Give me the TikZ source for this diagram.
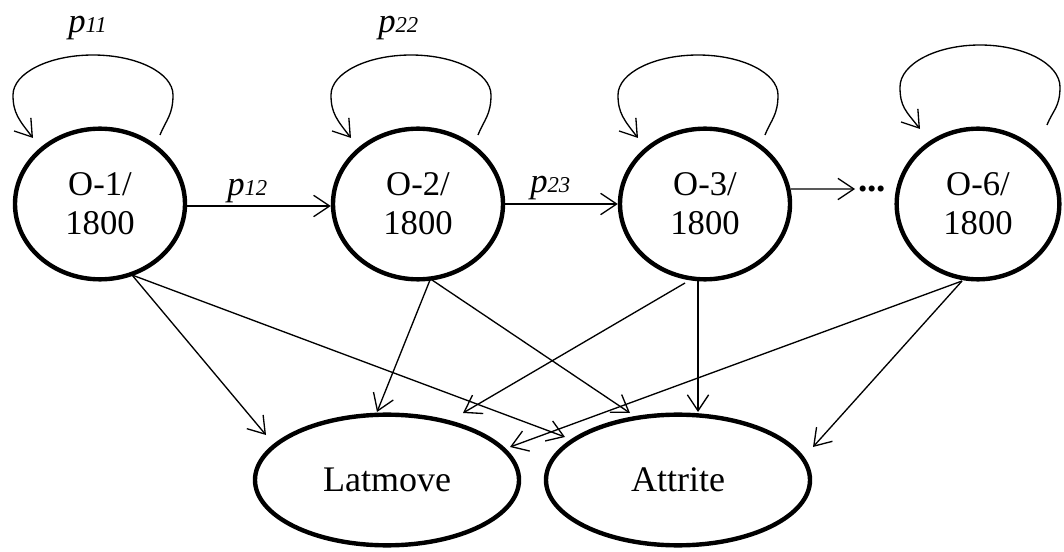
\documentclass[tikz,border=0pt]{standalone}
\usepackage{fontspec}
\setmainfont{Liberation Serif}
\usetikzlibrary{arrows.meta,shapes.geometric}
\newcommand\pidx[1]{{\fontsize{17}{17}\selectfont #1}}
\begin{document}
\begin{tikzpicture}[x=0.75pt,y=-0.75pt,
  state/.style={draw, line width=3.3pt, ellipse, inner sep=0pt,
    minimum width=127.5pt, minimum height=113pt,
    font=\fontsize{26}{29}\selectfont, align=center},
  sink/.style={draw, line width=3.3pt, ellipse, inner sep=0pt,
    minimum width=198pt, minimum height=98pt,
    font=\fontsize{27}{30}\selectfont},
  link/.style={line width=1pt, -{Straight Barb[length=12pt,width=16pt,line width=1pt]}},
  prob/.style={inner sep=0pt, anchor=base west, font=\fontsize{26}{26}\selectfont\itshape},
]
\useasboundingbox (0,0) rectangle (1064,552);

% states
\node[state] (o1) at (100,204) {O-1/\\1800};
\node[state] (o2) at (418,204) {O-2/\\1800};
\node[state] (o3) at (705,204) {O-3/\\1800};
\node[state, minimum width=122pt] (o6) at (978,204) {O-6/\\1800};
\node[inner sep=0pt, font=\fontsize{28}{28}\selectfont\bfseries] (dots) at (872,189) {...};

% absorbing states
\node[sink] (lat) at (387,480) {Latmove};
\node[sink] (att) at (678,480) {Attrite};

% self loops
\foreach \n in {o1,o2,o3}{
  \draw[link] ([shift={(60,-69)}]\n.center)
    .. controls +(6,-15) and +(0,20) .. ([shift={(73,-109)}]\n.center)
    .. controls +(0,-22) and +(44,0) .. ([shift={(-7,-149)}]\n.center)
    .. controls +(-44,0) and +(0,-22) .. ([shift={(-87,-109)}]\n.center)
    .. controls +(0,18) and +(-14,-18) .. ([shift={(-67,-66)}]\n.center);
}
\draw[link] ([shift={(69,-79)}]o6.center)
    .. controls +(6,-15) and +(0,20) .. ([shift={(82,-117)}]o6.center)
    .. controls +(0,-23) and +(44,0) .. ([shift={(2,-159)}]o6.center)
    .. controls +(-44,0) and +(0,-23) .. ([shift={(-78,-117)}]o6.center)
    .. controls +(0,20) and +(-14,-18) .. ([shift={(-58,-75)}]o6.center);

% transitions along the chain
\draw[link] ([yshift=-1.5pt]o1.east) -- ([yshift=-1.5pt]o2.west);
\draw[link] (o2.east) -- (o3.west);
\draw[link, shorten >=2pt] (o3.10) -- (dots.west);

% transition probabilities
\node[prob] (p11) at (68,33) {p\pidx{11}};
\node[prob] (p22) at (378,33) {p\pidx{22}};
\node[prob] (p12) at (227,196) {p\pidx{12}};
\node[prob] (p23) at (530,193) {p\pidx{23}};

% exits to the absorbing states
\draw[link] ([shift={(32,71)}]o1.center) -- ([shift={(-121,-45)}]lat.center);
\draw[link] ([shift={(32,71)}]o1.center) -- ([shift={(-113,-43)}]att.center);
\draw[link] ([shift={(12,76)}]o2.center) -- ([shift={(-10,-68)}]lat.center);
\draw[link] ([shift={(14,76)}]o2.center) -- ([shift={(-48,-67)}]att.center);
\draw[link] ([shift={(-20,79)}]o3.center) -- ([shift={(76,-67)}]lat.center);
\draw[link] ([shift={(-7,76)}]o3.center) -- ([shift={(20,-68)}]att.center);
\draw[link] ([shift={(-16,77)}]o6.center) -- ([shift={(123,-33)}]lat.center);
\draw[link] ([shift={(-16,77)}]o6.center) -- ([shift={(135,-33)}]att.center);
\end{tikzpicture}
\end{document}
